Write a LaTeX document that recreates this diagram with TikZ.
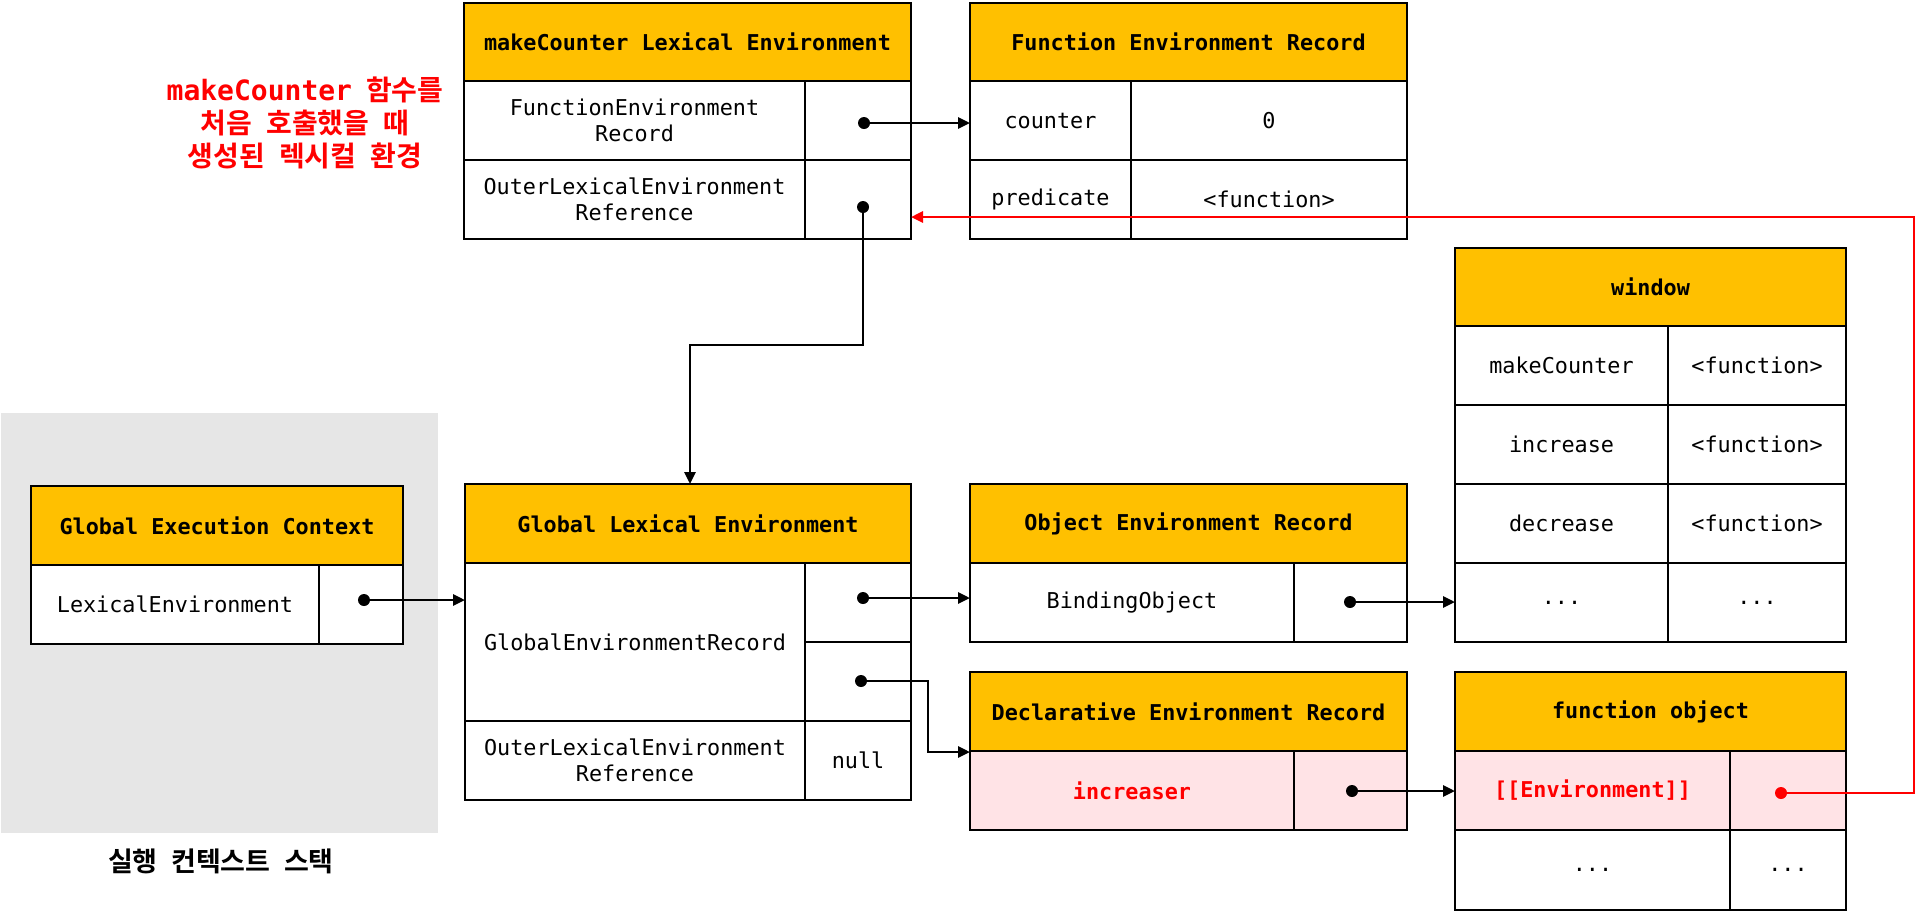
\documentclass[tikz,border=0pt]{standalone}
\usepackage{fontspec}
\setmonofont{DejaVu Sans Mono}
\newfontfamily\krfont{Noto Sans CJK KR Bold}[WordSpace=2.2]
\usetikzlibrary{arrows.meta}
\definecolor{hdr}{HTML}{FFC000}
\definecolor{pinkc}{HTML}{FFE3E6}
\definecolor{greyc}{HTML}{E6E6E6}
\definecolor{redc}{HTML}{FF0000}
\newcommand\tcell[7]{\node[cellbase,#6,minimum width={(#4-#2)*0.5pt},minimum height={(#5-#3)*0.5pt}] (#1) at ({(#2+#4)/2},{(#3+#5)/2}) {#7};}
\tikzset{
  cellbase/.style={draw=black,line width=1pt,inner sep=0pt,outer sep=0pt,align=center,fill=white,
    font=\ttfamily\fontsize{10.9}{13.2}\selectfont},
  hd/.style={fill=hdr,font=\ttfamily\bfseries\fontsize{10.9}{13.2}\selectfont},
  pk/.style={fill=pinkc},
  rt/.style={text=redc,font=\ttfamily\bfseries\fontsize{10.9}{13.2}\selectfont},
  conn/.style={line width=1.4pt,-{Triangle[length=6pt,width=5.5pt]}},
  rconn/.style={conn,draw=redc},
  dot/.style={fill=black},
}
\begin{document}
\begin{tikzpicture}[x=0.5pt,y=-0.5pt]
\useasboundingbox (0,0) rectangle (1916,912);
% execution context stack background
\fill[greyc] (1,413) rectangle (438,833);
\node[font=\krfont\fontsize{13.5}{16}\selectfont] (stacklbl) at (221,861) {실행 컨텍스트 스택};
% red annotation
\node[font=\krfont\fontsize{14}{16.7}\selectfont,text=redc,align=center] (note) at (305,123)
  {{\ttfamily\bfseries makeCounter} 함수를\\처음 호출했을 때\\생성된 렉시컬 환경};
% makeCounter Lexical Environment
\tcell{mcH}{464}{3}{911}{81}{hd}{makeCounter Lexical Environment}
\tcell{mcA1}{464}{81}{805}{160}{}{FunctionEnvironment\\Record}
\tcell{mcA2}{805}{81}{911}{160}{}{}
\tcell{mcB1}{464}{160}{805}{239}{}{OuterLexicalEnvironment\\Reference}
\tcell{mcB2}{805}{160}{911}{239}{}{}
% Function Environment Record
\tcell{ferH}{970}{3}{1407}{81}{hd}{Function Environment Record}
\tcell{ferA1}{970}{81}{1131}{160}{}{counter}
\tcell{ferA2}{1131}{81}{1407}{160}{}{0}
\tcell{ferB1}{970}{160}{1131}{239}{}{predicate}
\tcell{ferB2}{1131}{160}{1407}{239}{}{<function>}
% window
\tcell{winH}{1455}{248}{1846}{326}{hd}{window}
\tcell{winA1}{1455}{326}{1668}{405}{}{makeCounter}
\tcell{winA2}{1668}{326}{1846}{405}{}{<function>}
\tcell{winB1}{1455}{405}{1668}{484}{}{increase}
\tcell{winB2}{1668}{405}{1846}{484}{}{<function>}
\tcell{winC1}{1455}{484}{1668}{563}{}{decrease}
\tcell{winC2}{1668}{484}{1846}{563}{}{<function>}
\tcell{winD1}{1455}{563}{1668}{642}{}{...}
\tcell{winD2}{1668}{563}{1846}{642}{}{...}
% Global Execution Context
\tcell{gecH}{31}{486}{403}{565}{hd}{Global Execution Context}
\tcell{gecA1}{31}{565}{319}{644}{}{LexicalEnvironment}
\tcell{gecA2}{319}{565}{403}{644}{}{}
% Global Lexical Environment
\tcell{gleH}{465}{484}{911}{563}{hd}{Global Lexical Environment}
\tcell{gleA1}{465}{563}{805}{721}{}{GlobalEnvironmentRecord}
\tcell{gleA2}{805}{563}{911}{642}{}{}
\tcell{gleB2}{805}{642}{911}{721}{}{}
\tcell{gleC1}{465}{721}{805}{800}{}{OuterLexicalEnvironment\\Reference}
\tcell{gleC2}{805}{721}{911}{800}{}{null}
% Object Environment Record
\tcell{oerH}{970}{484}{1407}{563}{hd}{Object Environment Record}
\tcell{oerA1}{970}{563}{1294}{642}{}{BindingObject}
\tcell{oerA2}{1294}{563}{1407}{642}{}{}
% Declarative Environment Record
\tcell{derH}{970}{672}{1407}{751}{hd}{Declarative Environment Record}
\tcell{derA1}{970}{751}{1294}{830}{pk,rt}{increaser}
\tcell{derA2}{1294}{751}{1407}{830}{pk}{}
% function object
\tcell{foH}{1455}{672}{1846}{751}{hd}{function object}
\tcell{foA1}{1455}{751}{1730}{830}{pk,rt}{[[Environment]]}
\tcell{foA2}{1730}{751}{1846}{830}{pk}{}
\tcell{foB1}{1455}{830}{1730}{910}{}{...}
\tcell{foB2}{1730}{830}{1846}{910}{}{...}
% connector points
\coordinate (d1) at (864,123);
\coordinate (d2) at (863,207);
\coordinate (d3) at (364,600);
\coordinate (d4) at (863,598);
\coordinate (d5) at (861,681);
\coordinate (d6) at (1350,602);
\coordinate (d7) at (1352,791);
\coordinate (d8) at (1781,793);
\coordinate (j1) at (690,345);
\coordinate (j2) at (928,752);
\coordinate (j3) at (1914,217);
% connectors
\draw[conn] (d1) -- (d1 -| ferA1.west);
\draw[conn] (d2) |- (j1) -- (j1 |- gleH.north);
\draw[conn] (d3) -- (d3 -| gleA1.west);
\draw[conn] (d4) -- (d4 -| oerA1.west);
\draw[conn] (d5) -| (j2) -- (j2 -| derA1.west);
\draw[conn] (d6) -- (d6 -| winD1.west);
\draw[conn] (d7) -- (d7 -| foA1.west);
\draw[rconn] (d8) -| (j3) -- (j3 -| mcB2.east);
\foreach \p in {d1,d2,d3,d4,d5,d6,d7} \fill (\p) circle (3pt);
\fill[redc] (d8) circle (3pt);
\end{tikzpicture}
\end{document}
